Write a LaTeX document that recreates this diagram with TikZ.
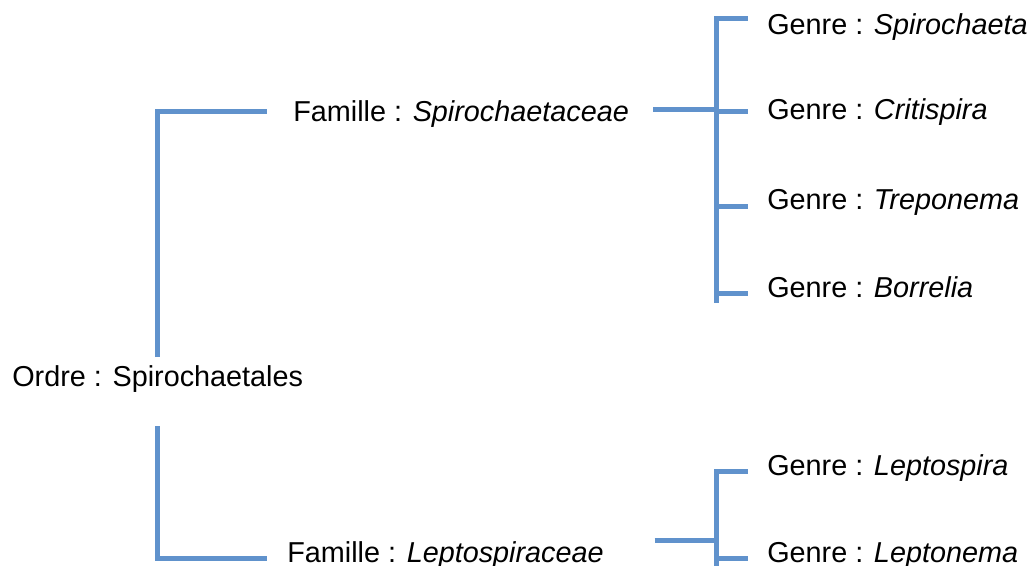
\documentclass[tikz,border=0pt]{standalone}
\usepackage{fontspec}
\setmainfont{Liberation Sans}
\usepackage{xcolor}
\usepackage{tikz}

\definecolor{linkblue}{RGB}{96,146,204}

\begin{document}
\begin{tikzpicture}[
  x=0.75pt, y=-0.75pt,
  taxon/.style={anchor=base west, inner sep=0pt,
    text height=0.73em, text depth=0.21em,
    font=\fontsize{21.6}{26}\selectfont},
  link/.style={draw=linkblue, line width=3.75pt}
  ]
\useasboundingbox (0,0) rectangle (1030,566);

% Root node
\node[taxon] (ordre) at (12,386) {Ordre : Spirochaetales};

% Families
\node[taxon] (spiro) at (293,122) {Famille : \textit{Spirochaetaceae}};
\node[taxon] (lepto) at (287,562) {Famille : \textit{Leptospiraceae}};

% Genera
\node[taxon] (spirochaeta) at (767,35)  {Genre : \textit{Spirochaeta}};
\node[taxon] (critispira)  at (767,120) {Genre : \textit{Critispira}};
\node[taxon] (treponema)   at (767,210) {Genre : \textit{Treponema}};
\node[taxon] (borrelia)    at (767,297) {Genre : \textit{Borrelia}};
\node[taxon] (leptospira)  at (767,475) {Genre : \textit{Leptospira}};
\node[taxon] (leptonema)   at (767,562) {Genre : \textit{Leptonema}};

\coordinate (jspiro) at (716,110);
\coordinate (jspiroend) at (716,303);
\coordinate (jlepto) at (716,540);
\coordinate (jleptoend) at (716,566);

% Order to families
\draw[link, shorten <=14.25pt, shorten >=19.5pt] (ordre.north) |- ([yshift=5.6pt]spiro.west);
\draw[link, shorten <=27.75pt, shorten >=15pt] (ordre.south) |- (lepto.west);

% Spirochaetaceae to genera
\draw[link, shorten <=18pt] (spiro.east |- jspiro) -- (jspiro);
\draw[link, shorten >=14.25pt] (jspiro) |- ([yshift=9.4pt]spirochaeta.west);
\draw[link, shorten >=14.25pt] (jspiro) |- ([yshift=4pt]critispira.west);
\draw[link, shorten >=14.25pt] (jspiro) |- (treponema.west);
\draw[link, shorten >=14.25pt] (jspiro) |- (borrelia.west);
\draw[link] (jspiro) -- (jspiroend);

% Leptospiraceae to genera
\draw[link, shorten <=38pt] (lepto.east |- jlepto) -- (jlepto);
\draw[link, shorten >=14.25pt] (jlepto) |- (leptospira.west);
\draw[link, shorten >=14.25pt] (jlepto) |- (leptonema.west);
\draw[link] (jlepto) -- (jleptoend);

\end{tikzpicture}
\end{document}
